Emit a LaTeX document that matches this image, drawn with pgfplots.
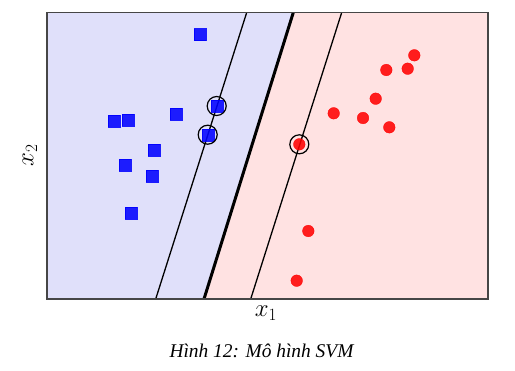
\documentclass[border=0pt]{standalone}
\usepackage{fontspec}
\usepackage{pgfplots}
\pgfplotsset{compat=1.18}
\newfontfamily\capfont{Liberation Serif}
\definecolor{bgblue}{RGB}{224,224,250}
\definecolor{bgred}{RGB}{255,226,226}
\definecolor{frame}{RGB}{70,70,70}
\begin{document}
\begin{tikzpicture}
\useasboundingbox (0,0) rectangle (515bp,371bp);
\begin{axis}[
  at={(47bp,72bp)}, anchor=south west,
  scale only axis, width=441bp, height=286.5bp,
  xmin=47, xmax=488, ymin=12.5, ymax=299, y dir=reverse,
  xtick=\empty, ytick=\empty,
  axis line style={frame, line width=1.2bp},
  axis on top=true,
  clip=true,
]
% regions
\addplot[fill=bgblue, draw=none] coordinates {(40,5) (295.6,5) (201.6,305) (40,305)} -- cycle;
\addplot[fill=bgred, draw=none] coordinates {(295.6,5) (495,5) (495,305) (201.6,305)} -- cycle;
% blue class
\addplot[only marks, mark=square*, mark size=6bp, blue, opacity=0.87] coordinates {
 (200,34.7) (216.7,106) (207.7,134.7) (113.7,120.7) (128,119.7)
 (175.7,114) (154,149.7) (125.3,164.7) (151.7,175.7) (131.3,212.7)};
% red class
\addplot[only marks, mark=*, mark size=5.8bp, red, opacity=0.87] coordinates {
 (414.3,55.3) (407.7,68.7) (386.3,70) (375.7,98.7) (333.7,113.3)
 (363,118) (389.3,127.3) (299.3,144.3) (308.3,231) (296.7,280.7)};
% margins and separating line
\addplot[black, line width=1.3bp] coordinates {(246.7,12.5) (155.7,299)};
\addplot[black, line width=3bp] coordinates {(293.3,12.5) (204,299)};
\addplot[black, line width=1.3bp] coordinates {(341.7,12.5) (250.7,299)};
% support vectors
\addplot[only marks, mark=o, mark size=9.5bp, black, mark options={line width=1.2bp}] coordinates {
 (216.7,106) (207.7,134.7) (299.3,144.3)};
\end{axis}
\node at (266bp,58bp) {\fontsize{23.5}{28}\selectfont $x_1$};
\node[rotate=90] at (30bp,215.5bp) {\fontsize{23.5}{28}\selectfont $x_2$};
\node at (261.5bp,20bp) {\fontsize{19.5}{23}\selectfont\capfont\itshape Hình 12: Mô hình SVM};
\end{tikzpicture}
\end{document}
